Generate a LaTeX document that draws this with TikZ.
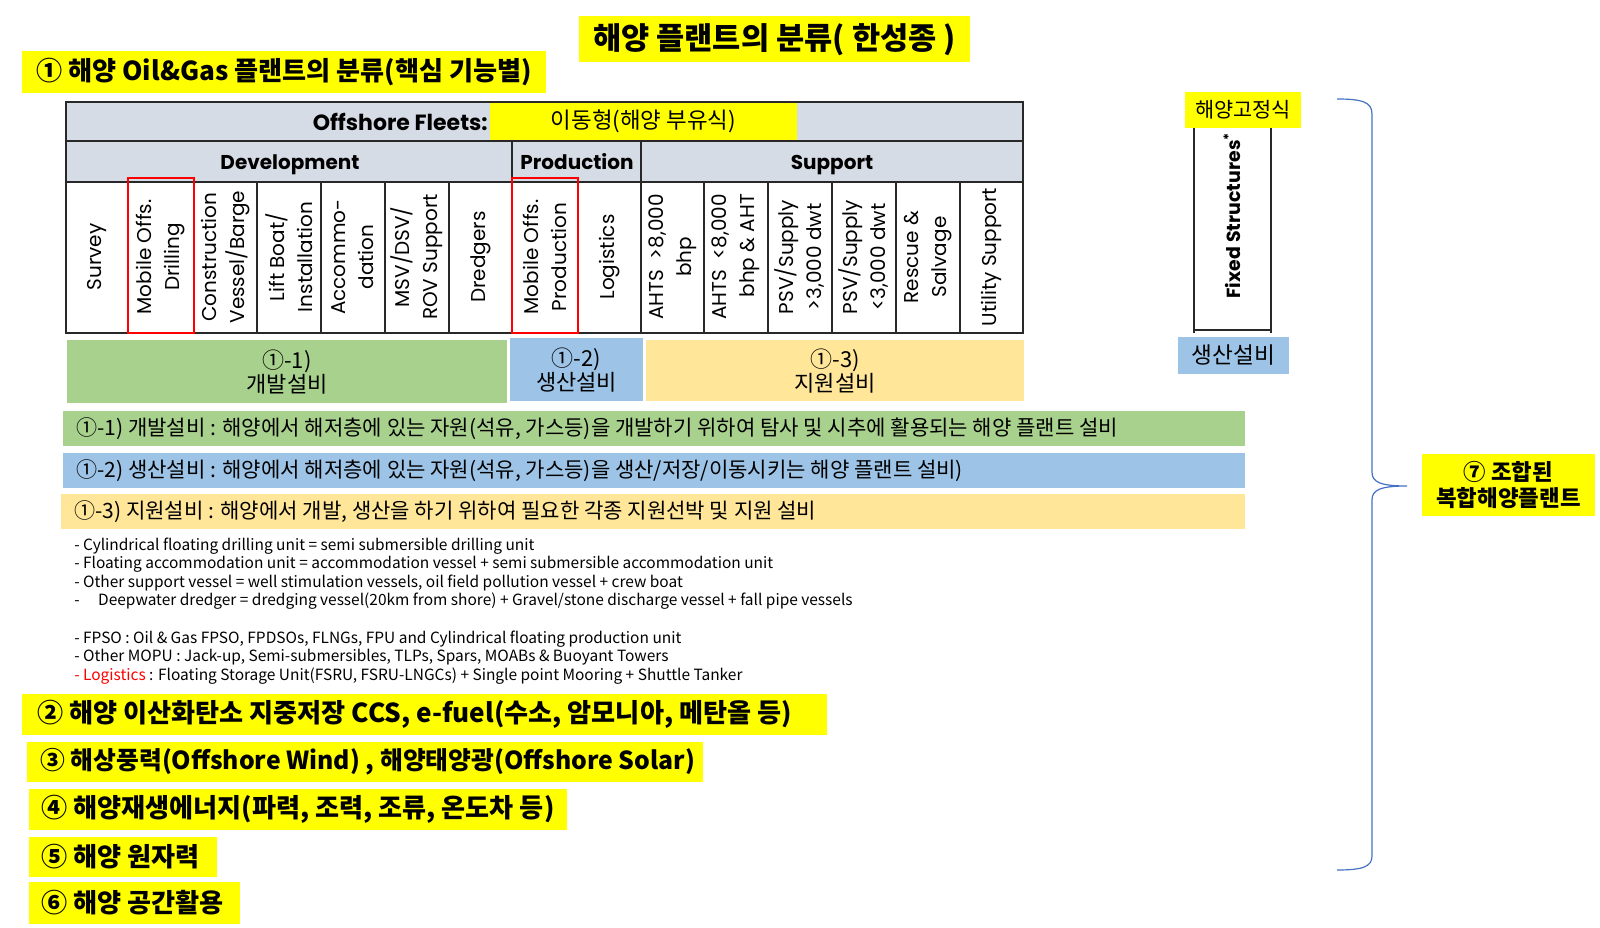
\documentclass[tikz,border=0pt]{standalone}
\usepackage{fontspec}
\setmainfont{Noto Sans CJK KR}
\newfontfamily\tabfont{Poppins}

\definecolor{hlyellow}{RGB}{255,255,0}
\definecolor{hdrgray}{RGB}{214,220,229}
\definecolor{devgreen}{RGB}{169,209,142}
\definecolor{prodblue}{RGB}{157,195,230}
\definecolor{suppyellow}{RGB}{255,230,153}
\definecolor{bracecol}{RGB}{68,114,196}
\definecolor{gridline}{RGB}{40,40,40}

\tikzset{
  ybig/.style={anchor=west, inner sep=0pt, font=\fontsize{19.6}{23}\selectfont\bfseries},
  coltext/.style={rotate=90, inner sep=0pt, align=center, font=\tabfont\fontsize{15}{21}\selectfont},
  hdrtext/.style={inner sep=0pt, anchor=base, font=\tabfont\fontsize{15}{18}\selectfont\bfseries},
  cattext/.style={inner sep=0pt, align=center, font=\fontsize{16.5}{18}\selectfont},
  desctext/.style={anchor=west, inner sep=0pt, font=\fontsize{15.8}{17}\selectfont},
  notetext/.style={anchor=west, inner sep=0pt, font=\fontsize{11.6}{13}\selectfont},
  gridln/.style={draw=gridline, line width=1pt},
  redbox/.style={draw=red, line width=1.2pt},
}

\begin{document}
\begin{tikzpicture}[x=0.75pt,y=0.75pt,yscale=-1,xscale=1]
\useasboundingbox (0,0) rectangle (1600,928);

%Shape: Rectangle [title]
\fill[hlyellow] (579,16) rectangle (970,62);
\node[inner sep=0pt, font=\fontsize{23}{26}\selectfont\bfseries] (title) at (774.5,40) {해양 플랜트의 분류( 한성종 )};
%Shape: Rectangle [oil gas]
\fill[hlyellow] (22,51) rectangle (546,93);
\node[ybig] (oilgas) at (36,72) {① 해양 Oil\&Gas 플랜트의 분류(핵심 기능별)};

%Table: header rows
\fill[hdrgray] (66,102) rectangle (1023,182);
\fill[hlyellow] (490,102) rectangle (797,141);
\draw[gridln] (66,102) rectangle (1023,333);
\draw[gridln] (66,141) -- (1023,141);
\draw[gridln] (66,182) -- (1023,182);
\draw[gridln] (512,141) -- (512,182);
\draw[gridln] (641,141) -- (641,182);
\foreach \xx in {128,194,257,321,385,449,512,578,641,704,768,832,896,960}
  \draw[gridln] (\xx,182) -- (\xx,333);

% Text Node
\node[inner sep=0pt, anchor=east, font=\tabfont\fontsize{16.5}{18}\selectfont\bfseries] (fleets) at (488,121.5) {Offshore Fleets:};
\node[inner sep=0pt, font=\fontsize{16.8}{18}\selectfont] (mobile) at (643.5,121.5) {이동형(해양 부유식)};
\node[hdrtext] (devel) at (290,169) {Development};
\node[hdrtext] (prod) at (577,169) {Production};
\node[hdrtext] (supp) at (832,169) {Support};

% Column texts
\node[coltext] (survey) at (97,257) {Survey};
\node[coltext] (modrill) at (161,257) {Mobile Offs.\\Drilling};
\node[coltext] (constr) at (225.5,257) {Construction\\Vessel/Barge};
\node[coltext] (lift) at (289,257) {Lift Boat/\\Installation};
\node[coltext] (accom) at (353,257) {Accommo-\\dation};
\node[coltext] (msv) at (417,257) {MSV/DSV/\\ROV Support};
\node[coltext] (dredge) at (480.5,257) {Dredgers};
\node[coltext] (moprod) at (545,257) {Mobile Offs.\\Production};
\node[coltext] (logis) at (609.5,257) {Logistics};
\node[coltext] (ahtsa) at (672.5,257) {AHTS \ >8,000\\bhp};
\node[coltext, align=right] (ahtsb) at (736,257) {AHTS \ <8,000\\bhp \& AHT};
\node[coltext] (psva) at (800,257) {PSV/Supply\\>3,000 dwt};
\node[coltext] (psvb) at (864,257) {PSV/Supply\\<3,000 dwt};
\node[coltext] (rescue) at (928,257) {Rescue \&\\Salvage};
\node[coltext] (util) at (991.5,257) {Utility Support};

%Shape: Rectangle [red marks]
\draw[redbox] (128,178) rectangle (194,333);
\draw[redbox] (512,178) rectangle (578,333);

%Shape: Rectangle [categories]
\fill[devgreen] (67,340) rectangle (507,403);
\node[cattext] (catdev) at (287,372) {①-1)\\개발설비};
\fill[prodblue] (510,338) rectangle (643,401);
\node[cattext] (catprod) at (576.5,370) {①-2)\\생산설비};
\fill[suppyellow] (646,340) rectangle (1024,401);
\node[cattext] (catsupp) at (835,371) {①-3)\\지원설비};

%Shape: Rectangle [descriptions]
\fill[devgreen] (63,411) rectangle (1245,446);
\node[desctext] (descdev) at (76,428.5) {①-1) 개발설비 : 해양에서 해저층에 있는 자원(석유, 가스등)을 개발하기 위하여 탐사 및 시추에 활용되는 해양 플랜트 설비};
\fill[prodblue] (63,453) rectangle (1245,488);
\node[desctext] (descprod) at (76,470.5) {①-2) 생산설비 : 해양에서 해저층에 있는 자원(석유, 가스등)을 생산/저장/이동시키는 해양 플랜트 설비)};
\fill[suppyellow] (61,494) rectangle (1245,529);
\node[desctext] (descsupp) at (74,511.5) {①-3) 지원설비 : 해양에서 개발, 생산을 하기 위하여 필요한 각종 지원선박 및 지원 설비};

% Notes
\node[notetext] (note1) at (74,546) {- Cylindrical floating drilling unit = semi submersible drilling unit};
\node[notetext] (note2) at (74,564.5) {- Floating accommodation unit = accommodation vessel + semi submersible accommodation unit};
\node[notetext] (note3) at (74,583) {- Other support vessel = well stimulation vessels, oil field pollution vessel + crew boat};
\node[notetext] (note4) at (74,601.5) {-\hspace{1.2em}Deepwater dredger = dredging vessel(20km from shore) + Gravel/stone discharge vessel + fall pipe vessels};
\node[notetext] (note5) at (74,639) {- FPSO : Oil \& Gas FPSO, FPDSOs, FLNGs, FPU and Cylindrical floating production unit};
\node[notetext] (note6) at (74,657.5) {- Other MOPU : Jack-up, Semi-submersibles, TLPs, Spars, MOABs \& Buoyant Towers};
\node[notetext] (note7) at (74,676.5) {\textcolor{red}{- Logistics} : Floating Storage Unit(FSRU, FSRU-LNGCs) + Single point Mooring + Shuttle Tanker};

%Shape: Rectangle [other plants]
\fill[hlyellow] (22,694) rectangle (827,735);
\node[ybig] (ccs) at (37,714.5) {② 해양 이산화탄소 지중저장 CCS, e-fuel(수소, 암모니아, 메탄올 등)};
\fill[hlyellow] (27,742) rectangle (703,782);
\node[ybig, font=\fontsize{18.6}{23}\selectfont\bfseries] (wind) at (40,762) {③ 해상풍력(Offshore Wind) , 해양태양광(Offshore Solar)};
\fill[hlyellow] (29,789) rectangle (567,830);
\node[ybig] (renew) at (41,809.5) {④ 해양재생에너지(파력, 조력, 조류, 온도차 등)};
\fill[hlyellow] (29,837) rectangle (217,877);
\node[ybig] (nuclear) at (41,857) {⑤ 해양 원자력};
\fill[hlyellow] (29,882) rectangle (240,924);
\node[ybig] (space) at (41,903) {⑥ 해양 공간활용};

%Shape: Fixed structures
\fill[hlyellow] (1185,92) rectangle (1301,128);
\node[inner sep=0pt, font=\fontsize{15.6}{17}\selectfont] (fixedkr) at (1243,110) {해양고정식};
\draw[gridln] (1194,128) -- (1194,333) (1271,128) -- (1271,333) (1194,330) -- (1271,330);
\node[rotate=90, inner sep=0pt, font=\tabfont\fontsize{14.2}{15}\selectfont\bfseries] (fixed) at (1232,215.5) {Fixed Structures\textsuperscript{*}};
\fill[prodblue] (1178,337) rectangle (1289,374);
\node[inner sep=0pt, font=\fontsize{17}{18}\selectfont] (fixedprod) at (1233.5,355.5) {생산설비};

%Brace
\coordinate (bracetip) at (1407,486);
\draw[bracecol, line width=0.9pt] (1337,99) .. controls (1362,99) and (1372,102) .. (1372,114) -- (1372,472) .. controls (1372,482) and (1380,486) .. (bracetip) .. controls (1380,486) and (1372,490) .. (1372,500) -- (1372,856) .. controls (1372,867) and (1362,870) .. (1337,870);

%Shape: Rectangle [combined]
\fill[hlyellow] (1422,454) rectangle (1595,516);
\node[inner sep=0pt, align=center, font=\fontsize{16.8}{20}\selectfont\bfseries] (combined) at (1508.5,485) {⑦ 조합된\\복합해양플랜트};

\end{tikzpicture}
\end{document}
